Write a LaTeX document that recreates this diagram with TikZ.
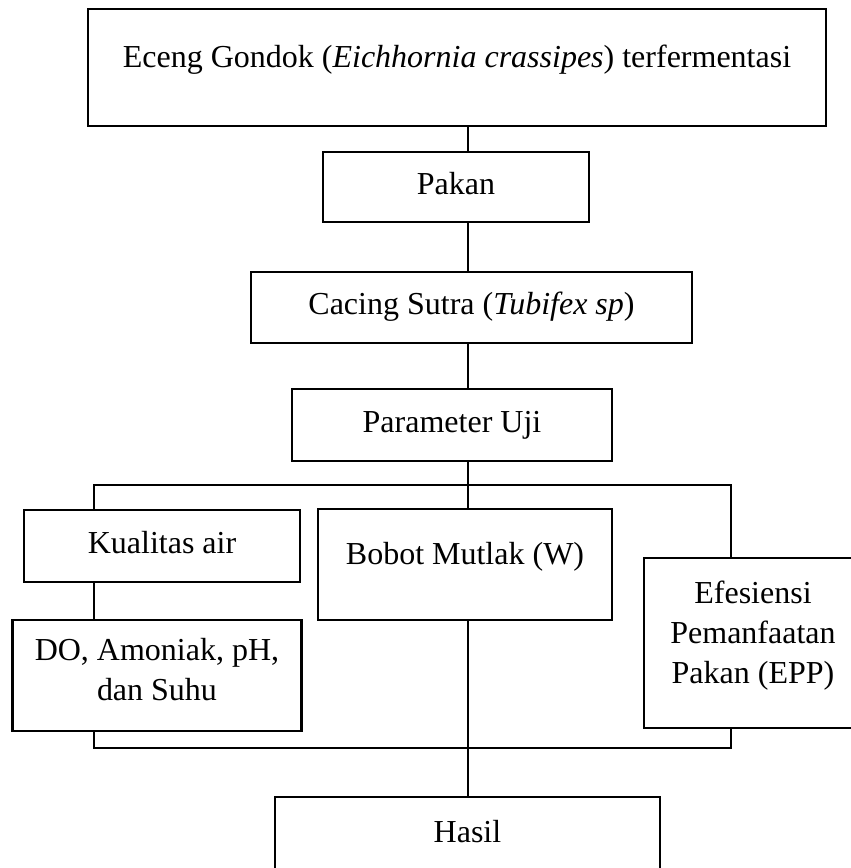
\documentclass[tikz,border=0pt]{standalone}
\usepackage{fontspec}
\setmainfont{Liberation Serif}
\usepackage{tikz}
\usetikzlibrary{positioning}
\tikzset{
  kotak/.style={draw=black, line width=2.4pt, rectangle, inner sep=0pt,
    font=\fontsize{32}{40}\selectfont, text height=21pt, text depth=7pt},
  garis/.style={line width=2.4pt},
}
% teks beberapa baris, garis dasar pada baris pertama
\newcommand{\baris}[2]{\parbox[t]{#1}{\centering #2}}

\begin{document}
\begin{tikzpicture}[x=1pt,y=-1pt]
    \useasboundingbox (0,0) rectangle (851,868);
    \clip (0,0) rectangle (851,868);

    % garis tengah dan sudut cabang
    \coordinate (spine) at (468,0);
    \coordinate (lt) at (94,485);
    \coordinate (rt) at (731,485);
    \coordinate (lb) at (94,748);
    \coordinate (rb) at (731,748);

    \node [kotak, minimum width=738pt, minimum height=117pt, text depth=22pt] (eceng) at (457,67.5)
      {Eceng Gondok (\textit{Eichhornia crassipes}) terfermentasi};
    \node [kotak, minimum width=266pt, minimum height=70pt] (pakan) at (456,187) {Pakan};
    \node [kotak, minimum width=441pt, minimum height=71pt] (cacing) at (471.5,307.5)
      {Cacing Sutra (\textit{Tubifex sp})};
    \node [kotak, minimum width=320pt, minimum height=72pt] (param) at (452,425) {Parameter Uji};

    \node [kotak, minimum width=276pt, minimum height=72pt] (kualitas) at (162,546) {Kualitas air};
    \node [kotak, minimum width=294pt, minimum height=111pt, text depth=22pt] (bobot) at (465,564.5)
      {Bobot Mutlak (W)};
    \node [kotak, minimum width=289pt, minimum height=111pt, text depth=52pt] (do) at (157,675.5)
      {\baris{280pt}{DO, Amoniak, pH,\\dan Suhu}};
    \node [kotak, minimum width=218pt, minimum height=170pt, text depth=101pt] (epp) at (753,643)
      {\baris{210pt}{Efesiensi\\Pemanfaatan\\Pakan (EPP)}};
    \node [kotak, minimum width=385pt, minimum height=76pt] (hasil) at (467.5,835) {Hasil};

    % penghubung
    \draw [garis] (eceng.south -| spine) -- (pakan.north -| spine);
    \draw [garis] (pakan.south -| spine) -- (cacing.north -| spine);
    \draw [garis] (cacing.south -| spine) -- (param.north -| spine);
    \draw [garis] (param.south -| spine) -- (bobot.north -| spine);
    \draw [garis] (kualitas.north -| lt) -- (lt) -- (rt) -- (epp.north -| rt);
    \draw [garis] (kualitas.south -| lt) -- (do.north -| lt);
    \draw [garis] (do.south -| lb) -- (lb) -- (rb) -- (epp.south -| rb);
    \draw [garis] (bobot.south -| spine) -- (hasil.north -| spine);
\end{tikzpicture}
\end{document}
